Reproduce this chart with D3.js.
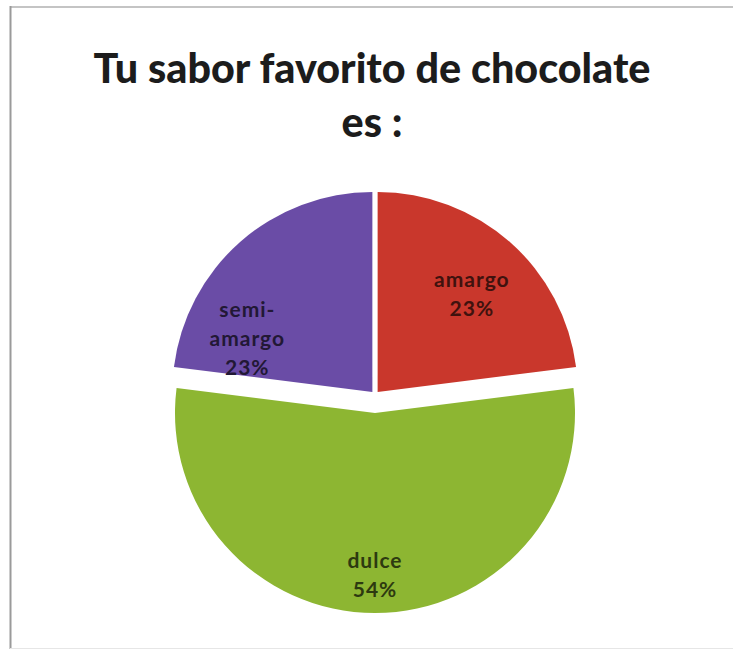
<!DOCTYPE html>
<html>
<head>
<meta charset="utf-8">
<script src="https://cdn.jsdelivr.net/npm/d3@7/dist/d3.min.js"></script>
<style>
  html, body { margin: 0; padding: 0; background: #ffffff; }
  svg { display: block; }
</style>
</head>
<body>
<svg id="chart" width="733" height="651"></svg>
<script>
// Survey results: favourite chocolate flavour (percent of answers)
const categories = ["amargo", "dulce", "semi-amargo"];
const values = [23, 54, 23];
const labelLines = [["amargo"], ["dulce"], ["semi-", "amargo"]];
const titleLines = ["Tu sabor favorito de chocolate", "es :"];

const W = 733, H = 651;
const svg = d3.select("#chart");

// frame around the chart area
const frame = svg.append("g");
frame.append("line").attr("x1", 10).attr("x2", W).attr("y1", 7).attr("y2", 7)
  .attr("stroke", "#c4c4c4").attr("stroke-width", 2);
frame.append("line").attr("x1", 10.5).attr("x2", 10.5).attr("y1", 6).attr("y2", 649)
  .attr("stroke", "#9a9a9a").attr("stroke-width", 2);
frame.append("line").attr("x1", 10).attr("x2", W).attr("y1", 648.5).attr("y2", 648.5)
  .attr("stroke", "#e6e6e6").attr("stroke-width", 1);

// title, two centred lines
const titleFont = "Lato, 'Open Sans', sans-serif";
const title = svg.append("g");
const t1 = title.append("text")
  .attr("x", 372).attr("y", 83)
  .attr("text-anchor", "middle")
  .attr("font-family", titleFont).attr("font-weight", 900)
  .attr("font-size", 36).attr("fill", "#1c1c1c")
  .text(titleLines[0]);
// keep the first line at its intended width
const targetW = 557;
const w1 = t1.node().getComputedTextLength();
const fs = Math.max(30, Math.min(42, 36 * targetW / w1));
t1.attr("font-size", fs);
title.append("text")
  .attr("x", 372).attr("y", 137)
  .attr("text-anchor", "middle")
  .attr("font-family", titleFont).attr("font-weight", 900)
  .attr("font-size", fs).attr("fill", "#1c1c1c")
  .text(titleLines[1]);

// pie geometry
const cx = 375, cy = 395, R = 200;
const colors = d3.scaleOrdinal()
  .domain(categories)
  .range(["#c9372c", "#8db632", "#6a4ca6"]);
// per-slice explosion distance and label placement (angle in degrees from vertex, distance)
const explode = { "amargo": 4, "dulce": 18, "semi-amargo": 4 };
const labelPlace = {
  "amargo": { ang: 44.7, r: 134 },
  "dulce": { ang: 180, r: 164 },
  "semi-amargo": { ang: -67.9, r: 135 }
};

const pie = d3.pie().sort(null).value(d => d.value);
const arcs = pie(categories.map((c, i) => ({ name: c, value: values[i], lines: labelLines[i] })));
const arc = d3.arc().innerRadius(0).outerRadius(R);

const total = d3.sum(values);
const pct = d3.format(".0%");

const slices = svg.append("g").attr("transform", `translate(${cx},${cy})`)
  .selectAll("g.slice").data(arcs).join("g")
  .attr("class", "slice")
  .attr("transform", d => {
    const mid = (d.startAngle + d.endAngle) / 2;
    const e = explode[d.data.name];
    return `translate(${e * Math.sin(mid)},${-e * Math.cos(mid)})`;
  });

slices.append("path")
  .attr("d", arc)
  .attr("fill", d => colors(d.data.name));

// data labels: category name plus percentage
const lineH = 29;
slices.each(function (d) {
  const g = d3.select(this);
  const p = labelPlace[d.data.name];
  const a = p.ang * Math.PI / 180;
  const lx = p.r * Math.sin(a), ly = -p.r * Math.cos(a);
  const lines = d.data.lines.concat([pct(d.data.value / total)]);
  const n = lines.length;
  const txt = g.append("text")
    .attr("text-anchor", "middle")
    .attr("font-family", "Lato, 'Open Sans', sans-serif")
    .attr("font-weight", 700)
    .attr("font-size", 21)
    .attr("letter-spacing", 1)
    .attr("fill", d3.color(colors(d.data.name)).darker(3.2));
  lines.forEach((s, i) => {
    txt.append("tspan")
      .attr("x", lx)
      .attr("y", ly + (i - (n - 1) / 2) * lineH + 5)
      .text(s);
  });
});
</script>
</body>
</html>
